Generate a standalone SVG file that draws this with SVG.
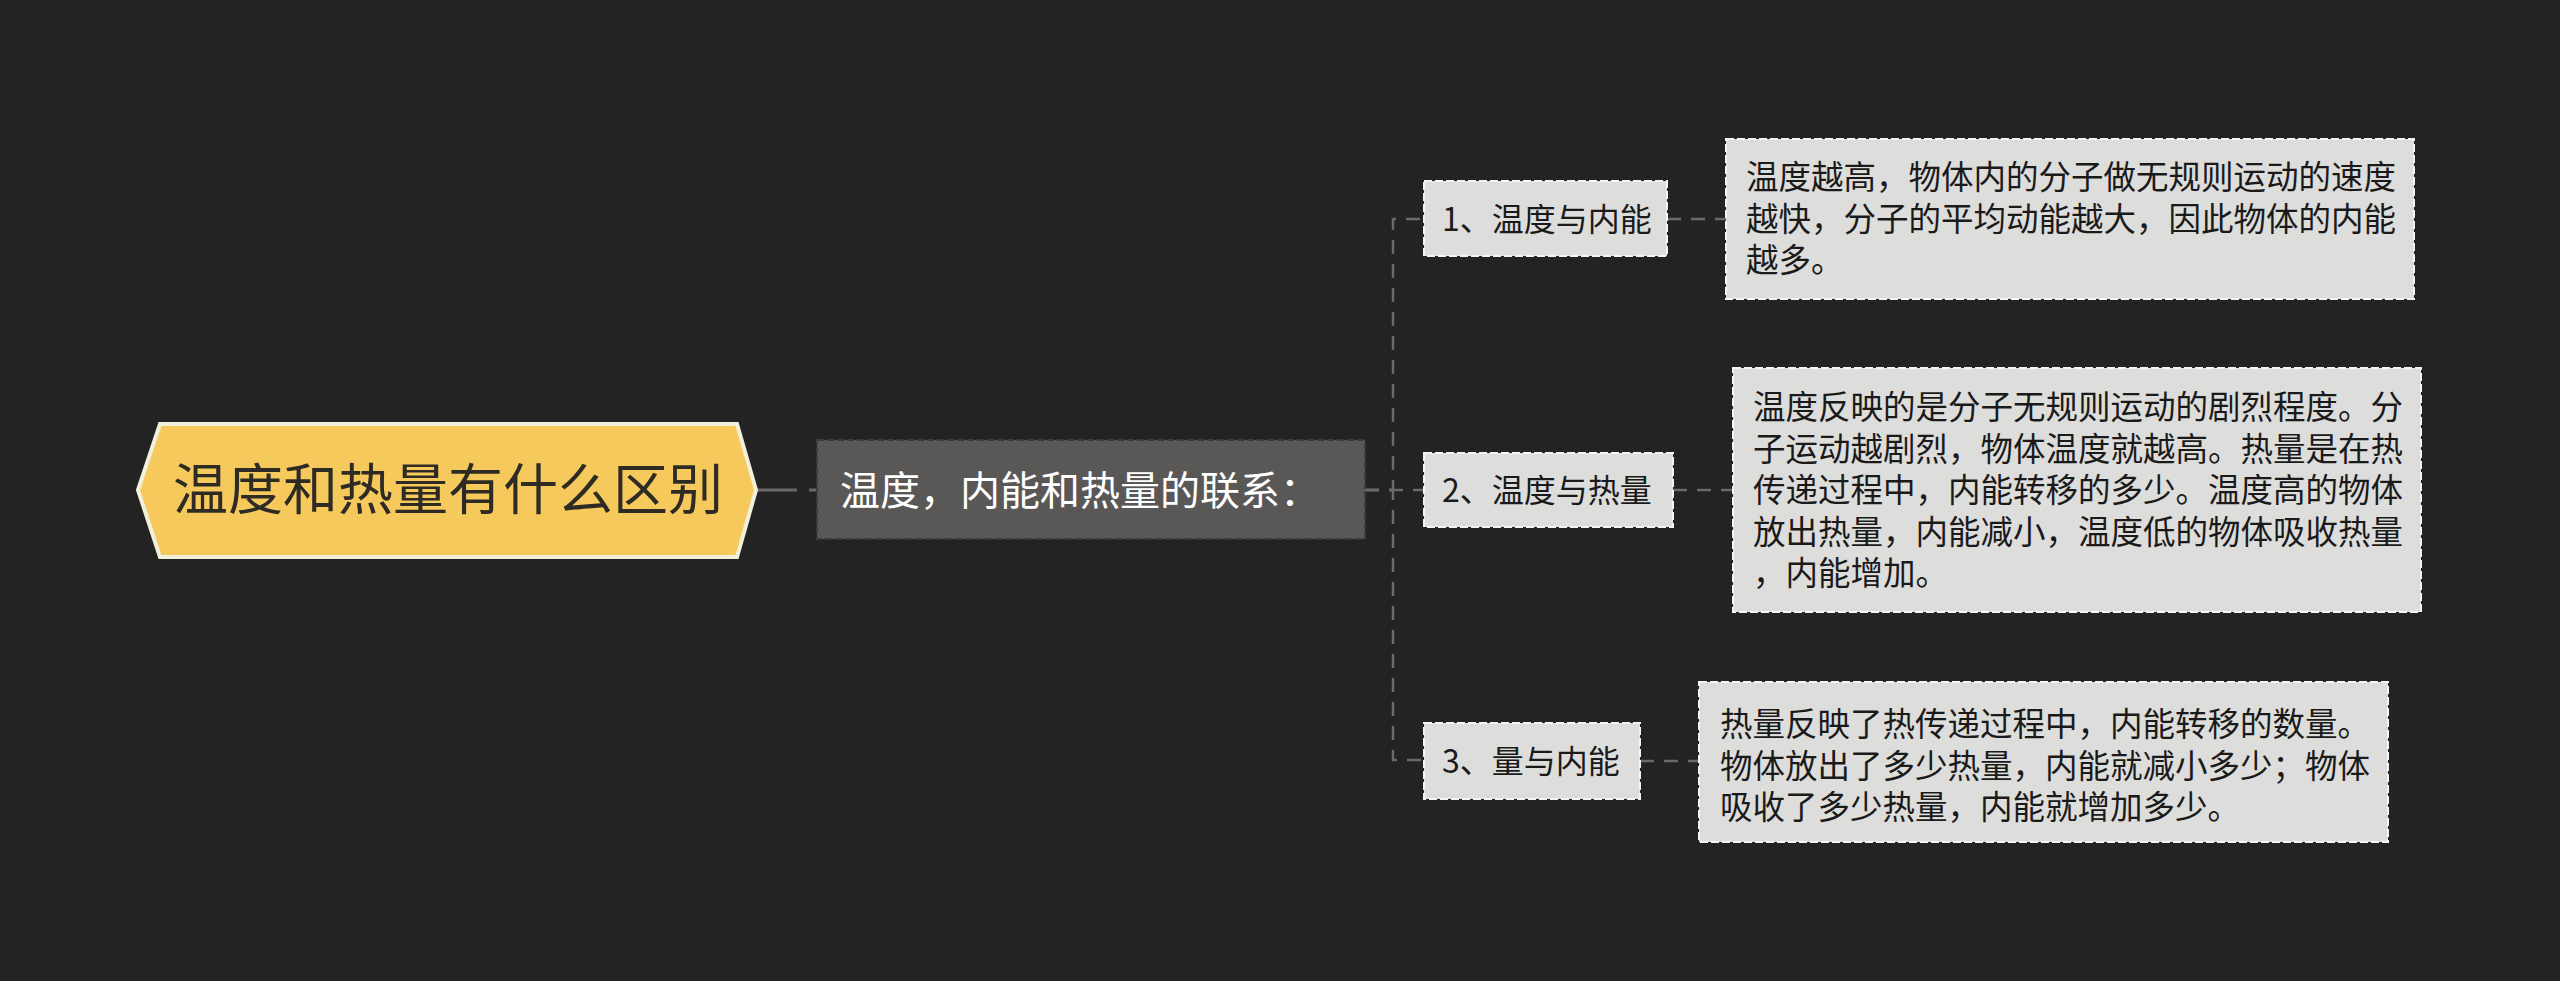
<svg xmlns="http://www.w3.org/2000/svg" width="2560" height="981" viewBox="0 0 2560 981">
<style>
  text { font-family: "Noto Sans CJK SC", "Noto Sans", sans-serif; }
  .conn { fill: none; stroke: #6a6a6a; stroke-width: 2.5; stroke-dasharray: 14 10; }
  .lvl2 { fill: #dddddc; stroke: #f4f4f4; stroke-width: 2; stroke-dasharray: 8 3; }
  .lvl2t { font-size: 32px; fill: #1a1a1a; }
  .body { fill: #dddddc; stroke: #f4f4f4; stroke-width: 2; stroke-dasharray: 8 3; }
  .bodyt { font-size: 32.5px; fill: #1a1a1a; }
</style>
<rect x="0" y="0" width="2560" height="981" fill="#232323"/>
<g id="connectors">
  <path d="M757 490 L817 490" fill="none" stroke="#6a6a6a" stroke-width="3" stroke-dasharray="40 12"/>
  <path class="conn" d="M1365 490 L1393 490 L1393 219 L1424 219"/>
  <path class="conn" d="M1365 490 L1393 490 L1424 490"/>
  <path class="conn" d="M1365 490 L1393 490 L1393 760 L1424 760"/>
  <path class="conn" d="M1667 219 L1726 219"/>
  <path class="conn" d="M1673 490 L1733 490"/>
  <path class="conn" d="M1640 761 L1699 761"/>
</g>
<g id="root">
  <polygon points="138,490 160,424 737,424 756,490 737,557 160,557" fill="#f5c95c" stroke="#f2efdb" stroke-width="4"/>
  <text x="448" y="509" font-size="55" fill="#2e2b24" text-anchor="middle">温度和热量有什么区别</text>
</g>
<g id="child">
  <rect x="817" y="440" width="548" height="99" fill="#5a5856" stroke="#3c3b3a" stroke-width="2" stroke-dasharray="7 3"/>
  <text x="840" y="505" font-size="40" fill="#ffffff">温度，内能和热量的联系：</text>
</g>
<g id="branch1">
  <rect class="lvl2" x="1424" y="181" width="243" height="75"/>
  <text class="lvl2t" x="1442" y="231">1、温度与内能</text>
</g>
<g id="branch2">
  <rect class="lvl2" x="1424" y="453" width="249" height="74"/>
  <text class="lvl2t" x="1442" y="502">2、温度与热量</text>
</g>
<g id="branch3">
  <rect class="lvl2" x="1424" y="723" width="216" height="76"/>
  <text class="lvl2t" x="1442" y="773">3、量与内能</text>
</g>
<g id="detail1">
  <rect class="body" x="1726" y="139" width="688" height="160"/>
  <text class="bodyt" x="1746" y="189">温度越高，物体内的分子做无规则运动的速度</text>
  <text class="bodyt" x="1746" y="230.5">越快，分子的平均动能越大，因此物体的内能</text>
  <text class="bodyt" x="1746" y="272">越多。</text>
</g>
<g id="detail2">
  <rect class="body" x="1733" y="368" width="688" height="244"/>
  <text class="bodyt" x="1753" y="419">温度反映的是分子无规则运动的剧烈程度。分</text>
  <text class="bodyt" x="1753" y="460.5">子运动越剧烈，物体温度就越高。热量是在热</text>
  <text class="bodyt" x="1753" y="502">传递过程中，内能转移的多少。温度高的物体</text>
  <text class="bodyt" x="1753" y="543.5">放出热量，内能减小，温度低的物体吸收热量</text>
  <text class="bodyt" x="1753" y="585">，内能增加。</text>
</g>
<g id="detail3">
  <rect class="body" x="1699" y="682" width="689" height="160"/>
  <text class="bodyt" x="1720" y="736">热量反映了热传递过程中，内能转移的数量。</text>
  <text class="bodyt" x="1720" y="777.5">物体放出了多少热量，内能就减小多少；物体</text>
  <text class="bodyt" x="1720" y="819">吸收了多少热量，内能就增加多少。</text>
</g>
</svg>
